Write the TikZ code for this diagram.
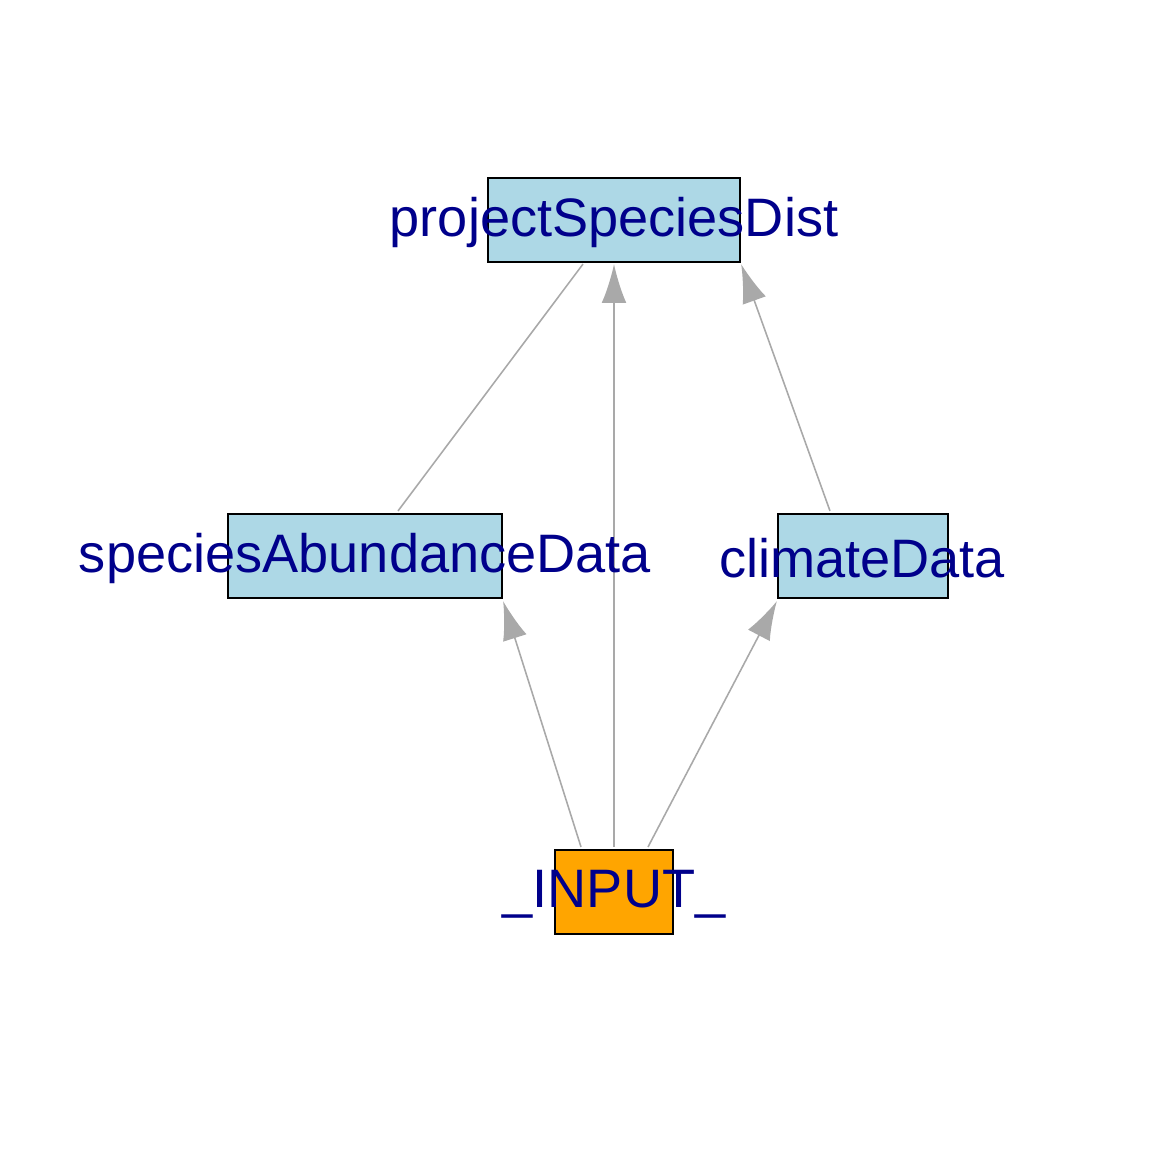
\documentclass[tikz,border=0pt]{standalone}
\usepackage{fontspec}
\setmainfont{Liberation Sans}
\usetikzlibrary{arrows.meta}
\definecolor{boxblue}{HTML}{ADD8E6}
\definecolor{boxorange}{HTML}{FFA500}
\definecolor{labelblue}{HTML}{00008B}
\definecolor{edgegray}{HTML}{A9A9A9}
\begin{document}
\begin{tikzpicture}[x=0.01cm,y=-0.01cm,
  vbox/.style={draw=black, line width=0.6pt, inner sep=0pt, minimum height=0.84cm},
  vlabel/.style={text=labelblue, font=\fontsize{15.4}{18}\selectfont, inner sep=0pt, anchor=base},
  edgeline/.style={draw=edgegray, line width=0.45pt},
  arr/.style={edgeline, -{Latex[length=11pt,width=7pt]}}]
\useasboundingbox (0,0) rectangle (1152,1152);
% vertex boxes
\node[vbox, fill=boxblue, minimum width=2.52cm] (psd) at (614,220) {};
\node[vbox, fill=boxblue, minimum width=2.74cm] (sad) at (365,556) {};
\node[vbox, fill=boxblue, minimum width=1.70cm] (cd) at (863,556) {};
\node[vbox, fill=boxorange, minimum width=1.18cm] (inp) at (614,892) {};
% edges
\draw[edgeline] ([xshift=0.33cm,yshift=0.02cm]sad.north) -- ([xshift=-0.31cm,yshift=-0.01cm]psd.south);
\draw[arr] ([yshift=0.02cm]inp.north) -- ([yshift=-0.01cm]psd.south);
\draw[arr] ([xshift=-0.33cm,yshift=0.02cm]cd.north) -- ([yshift=-0.01cm]psd.south east);
\draw[arr] ([xshift=-0.33cm,yshift=0.02cm]inp.north) -- ([yshift=-0.02cm]sad.south east);
\draw[arr] ([xshift=0.34cm,yshift=0.02cm]inp.north) -- ([yshift=-0.02cm]cd.south west);
% labels
\node[vlabel] (psdL) at (614,237) {projectSpeciesDist};
\node[vlabel] (sadL) at (365,572) {speciesAbundanceData};
\node[vlabel] (cdL) at (862,577) {climateData};
\node[vlabel] (inpL) at (614,907) {\_INPUT\_};
\end{tikzpicture}
\end{document}
